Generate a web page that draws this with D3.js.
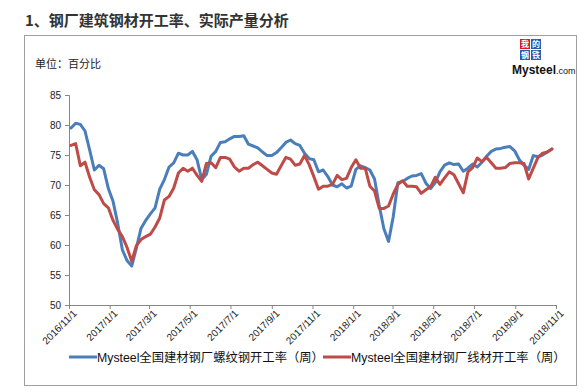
<!DOCTYPE html>
<html>
<head>
<meta charset="utf-8">
<script src="https://cdn.jsdelivr.net/npm/d3@7"></script>
<style>
  body { margin: 0; background: #fff; }
  svg { font-family: "Liberation Sans", "Noto Sans CJK SC", sans-serif; }
</style>
</head>
<body>
<svg id="chart" width="585" height="392"></svg>
<script>
var startDate = "2016-11-04";
var tickLabels = ["2016/11/1", "2017/1/1", "2017/3/1", "2017/5/1", "2017/7/1", "2017/9/1", "2017/11/1",
  "2018/1/1", "2018/3/1", "2018/5/1", "2018/7/1", "2018/9/1", "2018/11/1"];
var yTicks = [50, 55, 60, 65, 70, 75, 80, 85];
var seriesNames = ["Mysteel全国建材钢厂螺纹钢开工率（周）", "Mysteel全国建材钢厂线材开工率（周）"];

// weekly values, 螺纹钢
var rebar = [79.5, 80.3, 80.1, 79.0, 75.8, 72.5, 73.3, 72.7, 69.4, 67.3,
  63.6, 59.2, 57.4, 56.5, 59.5, 62.8, 64.1, 65.2, 66.2, 69.3,
  70.9, 73.0, 73.7, 75.3, 75.0, 75.0, 75.6, 74.2, 70.9, 71.8,
  74.8, 75.6, 77.1, 77.2, 77.7, 78.1, 78.1, 78.2, 76.8, 76.5,
  76.2, 75.5, 74.9, 74.9, 75.4, 76.2, 77.1, 77.5, 76.9, 76.6,
  75.3, 74.4, 74.2, 72.2, 72.5, 71.4, 70.0, 69.7, 70.2, 69.5,
  69.8, 72.6, 73.2, 72.9, 72.5, 71.0, 66.6, 62.7, 60.6, 64.7,
  70.4, 70.6, 71.1, 71.5, 71.6, 71.9, 70.3, 69.4, 70.4, 72.2,
  73.3, 73.7, 73.4, 73.5, 72.3, 72.8, 73.5, 73.0, 73.8, 74.8,
  75.6, 76.0, 76.1, 76.3, 76.4, 75.7, 74.2, 73.3, 72.6, 74.9,
  74.7, 75.0, 75.5, 76.0];

// weekly values, 线材
var wire = [76.6, 76.9, 73.2, 73.8, 71.3, 69.2, 68.4, 66.9, 66.2, 64.1,
  62.6, 61.4, 59.6, 57.3, 59.9, 60.9, 61.4, 61.8, 63.0, 64.5,
  67.5, 68.1, 69.5, 72.0, 72.8, 72.3, 72.8, 71.6, 70.6, 73.6,
  73.7, 72.9, 74.6, 74.6, 74.3, 73.0, 72.3, 72.8, 72.8, 73.4,
  73.8, 73.2, 72.6, 72.0, 71.8, 73.2, 74.6, 74.3, 73.3, 73.5,
  74.9, 73.4, 71.4, 69.3, 69.8, 69.8, 70.1, 71.6, 70.9, 71.1,
  72.9, 74.2, 72.8, 72.8, 69.8, 69.0, 66.1, 66.1, 66.5, 68.5,
  70.1, 70.7, 69.8, 69.8, 69.7, 68.6, 69.2, 69.7, 71.3, 70.1,
  71.2, 72.2, 71.7, 70.2, 68.7, 72.2, 72.9, 74.5, 73.9, 74.6,
  73.7, 72.8, 72.8, 72.9, 73.6, 73.7, 73.7, 73.6, 71.0, 72.8,
  74.6, 75.3, 75.5, 76.0];

var colors = ["#4a7ebb", "#be4b48"];

var parse = d3.timeParse("%Y-%m-%d");
var tickParse = d3.timeParse("%Y/%m/%d");
// one point a week, from the first Friday
var dates = rebar.map(function(d, i) { return d3.timeDay.offset(parse(startDate), i * 7); });

var svg = d3.select("#chart");

// outer frame
svg.append("rect")
  .attr("x", 24.5).attr("y", 35.5)
  .attr("width", 552).attr("height", 350)
  .attr("fill", "none").attr("stroke", "#a0a0a0");

svg.append("text")
  .attr("x", 25).attr("y", 26)
  .attr("font-size", 15).attr("font-weight", "bold")
  .attr("fill", "#333")
  .attr("font-family", "'Noto Sans CJK SC', sans-serif")
  .text("1、钢厂建筑钢材开工率、实际产量分析");

svg.append("text")
  .attr("x", 35).attr("y", 68)
  .attr("font-size", 11).attr("fill", "#222")
  .attr("font-family", "'Noto Sans CJK SC', sans-serif")
  .text("单位：百分比");

// logo
var logo = svg.append("g").attr("transform", "translate(520,39)");
var logoChars = [["我", 0, 0, "#cc1f1f"], ["的", 11, 0, "#2c5aa8"], ["钢", 0, 11, "#2c5aa8"], ["铁", 11, 11, "#2c5aa8"]];
logoChars.forEach(function(c) {
  logo.append("rect").attr("x", c[1]).attr("y", c[2]).attr("width", 10).attr("height", 10).attr("fill", c[3]);
  logo.append("text").attr("x", c[1] + 5).attr("y", c[2] + 8)
    .attr("text-anchor", "middle").attr("font-size", 8).attr("fill", "#fff")
    .attr("font-family", "'Noto Sans CJK SC', sans-serif").attr("font-weight", "bold")
    .text(c[0]);
});
var logoText = svg.append("text").attr("x", 512).attr("y", 74).attr("fill", "#111");
logoText.append("tspan").attr("font-size", 12).attr("font-weight", "bold").text("Mysteel");
logoText.append("tspan").attr("font-size", 9).text(".com");

var x = d3.scaleTime()
  .domain([tickParse("2016/11/1"), tickParse("2018/11/1")])
  .range([69, 556]);

var y = d3.scaleLinear()
  .domain([50, 85])
  .range([305, 95]);

var yAxis = svg.append("g")
  .attr("transform", "translate(69,0)")
  .call(d3.axisLeft(y).tickValues(yTicks).tickSize(4).tickPadding(4));
yAxis.selectAll("text").attr("font-size", 10).attr("fill", "#222");

var xAxis = svg.append("g")
  .attr("transform", "translate(0,305)")
  .call(d3.axisBottom(x)
    .tickValues(tickLabels.map(tickParse))
    .tickFormat(function(d, i) { return tickLabels[i]; })
    .tickSize(4));
xAxis.selectAll("text")
  .attr("font-size", 10).attr("fill", "#222")
  .attr("text-anchor", "end")
  .attr("dy", 0)
  .attr("transform", "translate(3,4) rotate(-45)");

svg.selectAll(".domain, .tick line").attr("stroke", "#868686");

var line = d3.line()
  .x(function(d, i) { return x(dates[i]); })
  .y(function(d) { return y(d); });

[rebar, wire].forEach(function(s, k) {
  svg.append("path")
    .datum(s)
    .attr("fill", "none")
    .attr("stroke", colors[k])
    .attr("stroke-width", 3)
    .attr("stroke-linejoin", "round")
    .attr("stroke-linecap", "round")
    .attr("d", line);
});

// legend
var legendX = [69, 323];
seriesNames.forEach(function(name, k) {
  var g = svg.append("g").attr("transform", "translate(" + legendX[k] + ",357)");
  g.append("line").attr("x1", 0).attr("x2", 28).attr("y1", 0).attr("y2", 0)
    .attr("stroke", colors[k]).attr("stroke-width", 3);
  g.append("text").attr("x", 28).attr("y", 4.5)
    .attr("font-size", 12.3).attr("fill", "#111")
    .text(name);
});
</script>
</body>
</html>
